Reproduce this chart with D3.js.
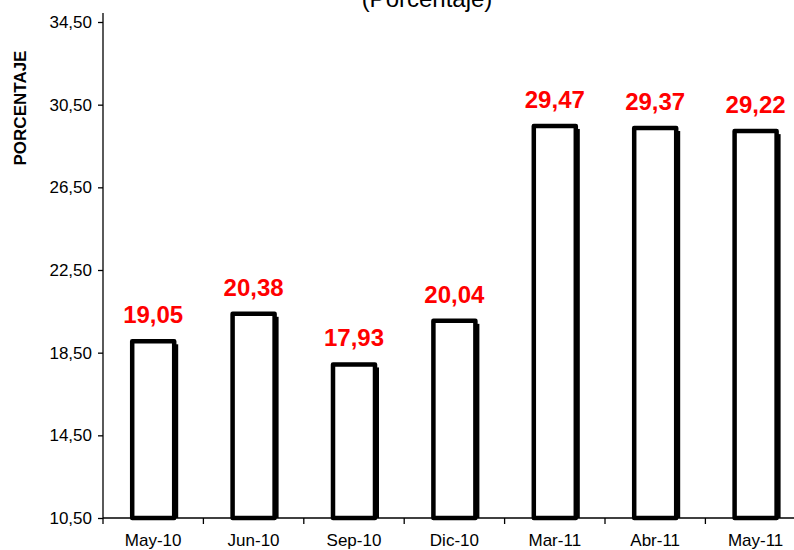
<!DOCTYPE html>
<html>
<head>
<meta charset="utf-8">
<script src="https://cdn.jsdelivr.net/npm/d3@7"></script>
<style>
  body { margin: 0; background: #fff; }
  svg { display: block; font-family: Arial, "Liberation Sans", sans-serif; }
</style>
</head>
<body>
<script>
// chart data
const categories = ["May-10", "Jun-10", "Sep-10", "Dic-10", "Mar-11", "Abr-11", "May-11"];
const values = [19.05, 20.38, 17.93, 20.04, 29.47, 29.37, 29.22];
const yTicks = [10.5, 14.5, 18.5, 22.5, 26.5, 30.5, 34.5];

const width = 794, height = 550;
const plotLeft = 103, plotBottom = 518, plotTop = 22;
const bandW = 100.4;

const svg = d3.select("body").append("svg")
    .attr("width", width)
    .attr("height", height);

// scales
const x = d3.scaleBand()
    .domain(categories)
    .range([plotLeft, plotLeft + bandW * categories.length])
    .paddingInner(0)
    .paddingOuter(0);

const y = d3.scaleLinear()
    .domain([10.5, 34.5])
    .range([plotBottom, plotTop]);

const fmt = v => d3.format(".2f")(v).replace(".", ",");

// title (cut off at top like the original)
svg.append("text")
    .attr("x", 427)
    .attr("y", 7)
    .attr("text-anchor", "middle")
    .style("font-size", "24px")
    .text("(Porcentaje)");

// y axis
const yAxis = svg.append("g")
    .attr("transform", `translate(${plotLeft},0)`)
    .call(d3.axisLeft(y).tickValues(yTicks).tickFormat(fmt).tickSize(5).tickSizeOuter(0));
yAxis.select(".domain").attr("d", `M0,13V${plotBottom}`).attr("stroke", "#000").attr("stroke-width", 1.3);
yAxis.selectAll(".tick line").attr("stroke", "#000").attr("stroke-width", 1.3);
yAxis.selectAll(".tick text")
    .attr("x", -11)
    .style("font-size", "17px")
    .attr("fill", "#000");

svg.append("text")
    .attr("transform", `translate(26,108) rotate(-90)`)
    .attr("text-anchor", "middle")
    .style("font-size", "17px")
    .style("font-weight", "bold")
    .text("PORCENTAJE");

// bars: shadow + outlined white box
const barW = 42;
const bars = svg.append("g");

bars.selectAll(".shadow")
    .data(values)
    .enter().append("rect")
    .attr("class", "shadow")
    .attr("x", (d, i) => x(categories[i]) + (bandW - barW) / 2 + 4)
    .attr("y", d => y(d) + 3)
    .attr("width", barW)
    .attr("height", d => plotBottom - y(d) - 3)
    .attr("fill", "#000");

bars.selectAll(".bar")
    .data(values)
    .enter().append("rect")
    .attr("class", "bar")
    .attr("x", (d, i) => x(categories[i]) + (bandW - barW) / 2)
    .attr("y", d => y(d))
    .attr("width", barW)
    .attr("height", d => plotBottom - y(d))
    .attr("fill", "#fff")
    .attr("stroke", "#000")
    .attr("stroke-width", 4.5)
    .attr("stroke-linejoin", "round");

// x axis
const xAxis = svg.append("g")
    .attr("transform", `translate(0,${plotBottom})`);
xAxis.append("line")
    .attr("x1", plotLeft).attr("x2", width)
    .attr("stroke", "#000").attr("stroke-width", 1.3);
xAxis.selectAll(".xtick")
    .data(categories)
    .enter().append("line")
    .attr("x1", d => x(d)).attr("x2", d => x(d))
    .attr("y1", 0).attr("y2", 6)
    .attr("stroke", "#000").attr("stroke-width", 1.3);
xAxis.selectAll(".xlabel")
    .data(categories)
    .enter().append("text")
    .attr("x", d => x(d) + x.bandwidth() / 2)
    .attr("y", 28)
    .attr("text-anchor", "middle")
    .style("font-size", "17px")
    .text(d => d);

// value labels
svg.append("g").selectAll("text")
    .data(values)
    .enter().append("text")
    .attr("x", (d, i) => x(categories[i]) + x.bandwidth() / 2)
    .attr("y", d => y(d) - 18)
    .attr("text-anchor", "middle")
    .attr("fill", "#ff0000")
    .style("font-size", "24px")
    .style("font-weight", "bold")
    .text(fmt);
</script>
</body>
</html>
